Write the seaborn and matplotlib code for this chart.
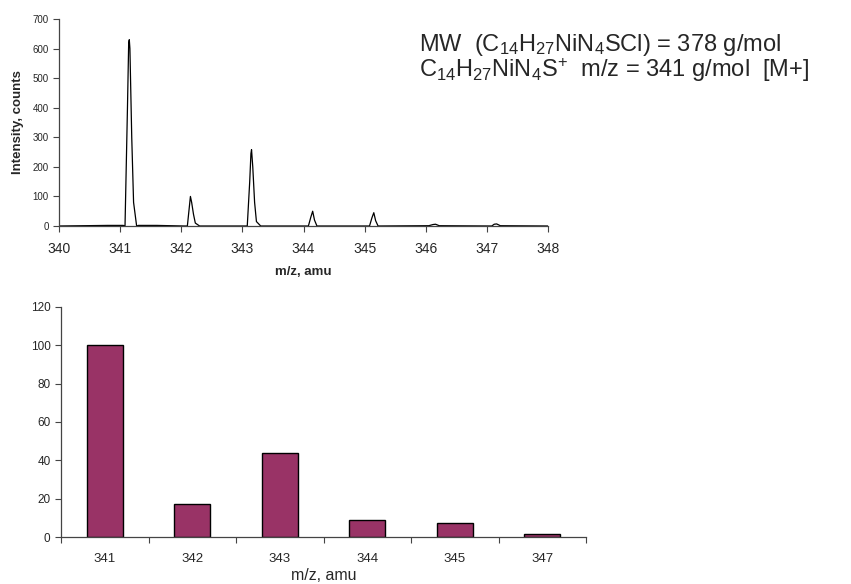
import matplotlib
matplotlib.use("Agg")
import matplotlib.pyplot as plt
import seaborn as sns
import pandas as pd

# Profile spectrum (m/z, counts)
spec_mz = [340.00, 340.80, 341.05, 341.08, 341.12, 341.14, 341.15, 341.16, 341.19, 341.22, 341.27, 341.30, 341.60, 342.05,
           342.10, 342.13, 342.15, 342.17, 342.20, 342.23, 342.30, 343.00, 343.08, 343.12, 343.14, 343.15, 343.17, 343.20, 343.23, 343.30,
           344.08, 344.12, 344.15, 344.18, 344.22, 345.08, 345.12, 345.15, 345.18, 345.22,
           346.05, 346.12, 346.16, 346.22, 347.08, 347.12, 347.16, 347.22, 348.00]
spec_int = [0, 2, 2, 0, 400, 620, 630, 600, 300, 80, 0, 2, 2, 0,
            0, 60, 100, 80, 40, 10, 0, 0, 0, 150, 245, 258, 200, 80, 15, 0,
            0, 30, 50, 20, 0, 0, 28, 45, 18, 0,
            1, 5, 6, 1, 0, 6, 7, 1, 0]

# Relative isotope abundances
categories = ["341", "342", "343", "344", "345", "347"]
rel_abund = [100, 17.4, 43.7, 8.7, 7.1, 1.6]

sns.set_theme(style="ticks")
plt.rcParams["font.family"] = ["Liberation Sans", "DejaVu Sans"]
plt.rcParams["mathtext.fontset"] = "custom"
plt.rcParams["mathtext.rm"] = "Liberation Sans"
plt.rcParams["mathtext.it"] = "Liberation Sans:italic"
plt.rcParams["mathtext.bf"] = "Liberation Sans:bold"
plt.rcParams["mathtext.default"] = "rm"

fig = plt.figure(figsize=(8.51, 5.84), dpi=100)
W, H = 851, 584
ax1 = fig.add_axes([59 / W, 1 - 226 / H, (548 - 59) / W, (226 - 19) / H])
ax2 = fig.add_axes([61 / W, 1 - 537 / H, (586 - 61) / W, (537 - 307) / H])

# Mass spectrum
df_spec = pd.DataFrame({"mz": spec_mz, "counts": spec_int})
sns.lineplot(data=df_spec, x="mz", y="counts", ax=ax1, color="black", linewidth=0.9,
             estimator=None, sort=False)
ax1.set_xlim(340, 348)
ax1.set_ylim(0, 700)
ax1.set_xticks(range(340, 349))
ax1.set_yticks(range(0, 701, 100))
ax1.set_xlabel("m/z, amu", fontsize=9.5, fontweight="bold", labelpad=7.5)
ax1.set_ylabel("Intensity, counts", fontsize=9.5, fontweight="bold", labelpad=6)
ax1.tick_params(length=4, width=0.8, color="#444444")
ax1.tick_params(axis="x", labelsize=10, pad=7.5)
ax1.tick_params(axis="y", labelsize=7)

# Isotope pattern bars
df_bar = pd.DataFrame({"mz": categories, "abund": rel_abund})
sns.barplot(data=df_bar, x="mz", y="abund", ax=ax2, color="#993366", saturation=1,
            width=0.41, edgecolor="black", linewidth=1.0)
ax2.set_xlim(-0.5, len(categories) - 0.5)
ax2.set_ylim(0, 120)
ax2.set_yticks(range(0, 121, 20))
ax2.set_xticks([i - 0.5 for i in range(len(categories) + 1)])
ax2.set_xticklabels([])
ax2.set_xticks(range(len(categories)), minor=True)
ax2.set_xticklabels(categories, minor=True)
ax2.tick_params(axis="x", which="minor", length=0, labelsize=9.5, pad=11.5)
ax2.tick_params(axis="both", which="major", length=4, width=0.8, color="#444444")
ax2.tick_params(axis="y", labelsize=8.5)
ax2.set_xlabel("m/z, amu", fontsize=11.5, labelpad=2)
ax2.set_ylabel("")

for ax in (ax1, ax2):
    sns.despine(ax=ax)
    for s in ("left", "bottom"):
        ax.spines[s].set_color("#444444")
        ax.spines[s].set_linewidth(0.9)

# Formula / molecular weight note
formula_note = (r"MW  (C$_{14}$H$_{27}$NiN$_4$SCl) = 378 g/mol" "\n"
                r"C$_{14}$H$_{27}$NiN$_4$S$^{+}$  m/z = 341 g/mol  [M+]")
fig.text(419 / W, 1 - 77 / H, formula_note, fontsize=17, ha="left", va="baseline",
         linespacing=0.93, multialignment="left")

fig.savefig("out.png", dpi=100, facecolor="white")
